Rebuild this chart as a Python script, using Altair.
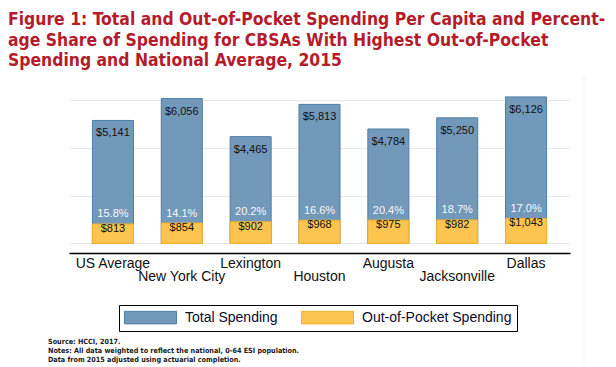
import altair as alt
import pandas as pd

categories = ["US Average", "New York City", "Lexington", "Houston", "Augusta", "Jacksonville", "Dallas"]
total_spending = [5141, 6056, 4465, 5813, 4784, 5250, 6126]
oop_spending = [813, 854, 902, 968, 975, 982, 1043]
oop_share = [15.8, 14.1, 20.2, 16.6, 20.4, 18.7, 17.0]
series_names = ["Total Spending", "Out-of-Pocket Spending"]
second_row = ["New York City", "Houston", "Jacksonville"]
y_ticks = [0, 2000, 4000, 6000]
title_lines = [
    "Figure 1: Total and Out-of-Pocket Spending Per Capita and Percent-",
    "age Share of Spending for CBSAs With Highest Out-of-Pocket",
]
subtitle_line = "Spending and National Average, 2015"
notes = [
    "Source: HCCI, 2017.",
    "Notes: All data weighted to reflect the national, 0-64 ESI population.",
    "Data from 2015 adjusted using actuarial completion.",
]

FILL = ["#7299BA", "#FDC44F"]
STROKE = ["#4F7EA7", "#F4B12A"]
RED = "#B41C2C"
SANS = "Liberation Sans, Arial, sans-serif"
NARROW = "DejaVu Sans Condensed, Liberation Sans Narrow, sans-serif"

wide = pd.DataFrame({
    "category": categories,
    "total": total_spending,
    "oop": oop_spending,
    "share": oop_share,
})
wide["total_label"] = ["$" + f"{v:,}" for v in total_spending]
wide["oop_label"] = ["$" + f"{v:,}" for v in oop_spending]
wide["share_label"] = [f"{s:.1f}%" for s in oop_share]

long = pd.concat([
    pd.DataFrame({"category": categories, "series": series_names[0], "value": total_spending}),
    pd.DataFrame({"category": categories, "series": series_names[1], "value": oop_spending}),
], ignore_index=True)

label_expr = (
    "indexof(" + str(second_row) + ", datum.value) >= 0 ? ['', datum.label] : datum.label"
)

x_enc = alt.X(
    "category:N",
    sort=categories,
    title=None,
    scale=alt.Scale(paddingInner=0.404, paddingOuter=0.34),
    axis=alt.Axis(
        labelAngle=0,
        labelFont=SANS,
        labelFontSize=14,
        labelColor="#111111",
        labelBaseline="top",
        labelLineHeight=13,
        labelPadding=3,
        labelExpr=label_expr,
        labelOverlap=False,
        labelFlush=False,
        labelLimit=300,
        ticks=False,
        grid=False,
        domainColor="#000000",
        domainWidth=1.3,
    ),
)
y_scale = alt.Scale(domain=[-400, 7000], nice=False, zero=False)
y_axis = alt.Axis(
    values=y_ticks, labels=False, ticks=False, domain=False, title=None,
    grid=True, gridColor="#E3EAF0", gridWidth=1,
)

legend = alt.Legend(
    title=None,
    orient="none",
    legendX=50,
    legendY=229,
    direction="horizontal",
    symbolType="M-1,-0.893H6.43V0.893H-1Z",
    symbolSize=196,
    symbolStrokeWidth=1,
    symbolOpacity=1,
    labelFont=SANS,
    labelFontSize=14,
    labelColor="#0B0B2E",
    labelOffset=46,
    labelLimit=300,
    columnPadding=21,
    padding=5,
    strokeColor="#000000",
    fillColor="#FFFFFF",
)
fill_scale = alt.Scale(domain=series_names, range=FILL)
stroke_scale = alt.Scale(domain=series_names, range=STROKE)

bars_base = alt.Chart(long).mark_bar(strokeWidth=1).encode(
    x=x_enc,
    y=alt.Y("value:Q", scale=y_scale, axis=y_axis, title=None),
    y2=alt.datum(0),
    fill=alt.Fill("series:N", scale=fill_scale, legend=legend),
    stroke=alt.Stroke("series:N", scale=stroke_scale, legend=legend),
)
total_bars = bars_base.transform_filter(alt.datum.series == series_names[0])
oop_bars = bars_base.transform_filter(alt.datum.series == series_names[1])

txt = alt.Chart(wide)
total_text = txt.mark_text(dy=13, baseline="middle", fontSize=11, font=SANS, color="#111111").encode(
    x=alt.X("category:N", sort=categories), y=alt.Y("total:Q"), text="total_label:N"
)
share_text = txt.mark_text(dy=-9.5, baseline="middle", fontSize=11, font=SANS, color="#F6F8FA").encode(
    x=alt.X("category:N", sort=categories), y=alt.Y("oop:Q"), text="share_label:N"
)
oop_text = txt.mark_text(dy=5, baseline="middle", fontSize=11, font=SANS, color="#111111").encode(
    x=alt.X("category:N", sort=categories), y=alt.Y("oop:Q"), text="oop_label:N"
)

one = pd.DataFrame({"k": [0]})
notes_text = alt.Chart(one).mark_text(
    align="left", baseline="middle", fontSize=7.2, font="DejaVu Sans Condensed, DejaVu Sans",
    fontWeight="bold", lineHeight=9, color="#1A1A1A", text=notes,
).encode(x=alt.value(-21), y=alt.value(266))
edge_rule = alt.Chart(one).mark_rule(color="#EDF1F4", strokeWidth=1).encode(
    x=alt.value(515), y=alt.value(0), y2=alt.value(291)
)

chart = alt.layer(
    total_bars, oop_bars, total_text, share_text, oop_text, notes_text, edge_rule
).properties(
    width=501,
    height=177,
    padding={"left": 61, "top": 68, "right": 38, "bottom": 114},
    autosize=alt.AutoSizeParams(type="none"),
    background="#FFFFFF",
    title=alt.Title(
        text=title_lines,
        subtitle=subtitle_line,
        anchor="start",
        frame="group",
        dx=-61,
        offset=6,
        font=NARROW,
        fontSize=17.4,
        fontWeight="bold",
        color=RED,
        lineHeight=21,
        subtitleFont=NARROW,
        subtitleFontSize=17.4,
        subtitleFontWeight="bold",
        subtitleColor=RED,
        subtitleLineHeight=21,
        subtitlePadding=3,
    ),
).configure_view(stroke="transparent")

chart.save("out.html", embed_options={"renderer": "svg", "actions": False})
